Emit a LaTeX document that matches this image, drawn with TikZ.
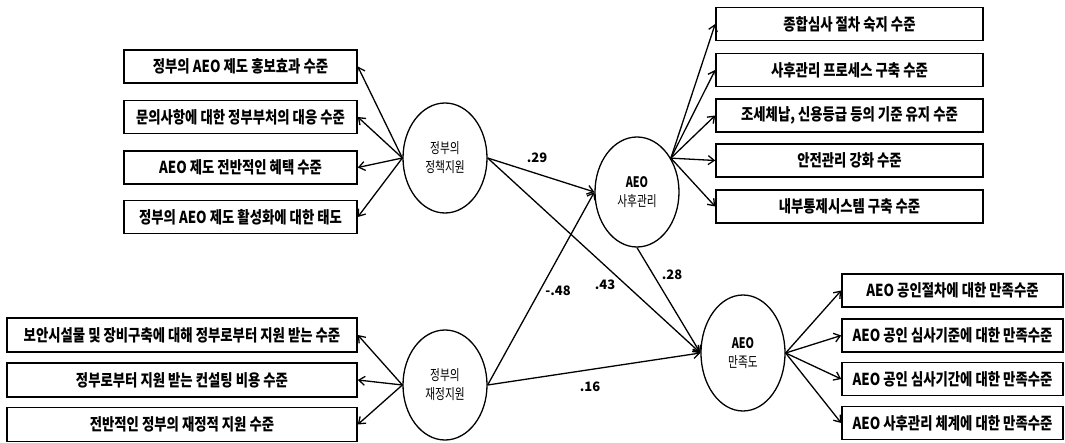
\documentclass[tikz,border=0pt]{standalone}
\usepackage{fontspec}
\setmainfont{Noto Sans CJK KR}
\newfontfamily\boxfont{Noto Sans CJK KR}[FakeStretch=0.81]
\newfontfamily\ellfont{Noto Sans CJK KR}[FakeStretch=0.74]
\usetikzlibrary{arrows.meta,shapes.geometric}
\tikzset{
  obs/.style={draw,line width=1.6pt,inner sep=0pt,font=\boxfont\fontsize{16.5}{18}\selectfont\bfseries,minimum height=33pt},
  lat/.style={draw,ellipse,line width=1.3pt,inner sep=0pt,minimum width=84pt,minimum height=110pt,align=center,font=\ellfont\fontsize{14.5}{19}\selectfont},
  arr/.style={line width=1.3pt,-{Straight Barb[length=6pt,width=9pt,line width=1.3pt]}},
  coef/.style={font=\fontsize{13}{15}\selectfont\bfseries,inner sep=1pt}
}
\begin{document}
\begin{tikzpicture}[x=1pt,y=-1pt]
\useasboundingbox[fill=white] (0,0) rectangle (1065,443);
% latent variables
\node[lat] (pol) at (445,158) {정부의\\정책지원};
\node[lat] (fin) at (445,385) {정부의\\재정지원};
\node[lat] (sa) at (637,192) {\textbf{AEO}\\사후관리};
\node[lat,minimum height=116pt] (man) at (743,353) {\textbf{AEO}\\만족도};
% policy indicators
\node[obs,minimum width=233pt] (p1) at (240.5,66.5) {정부의 AEO 제도 홍보효과 수준};
\node[obs,minimum width=233pt] (p2) at (240.5,117) {문의사항에 대한 정부부처의 대응 수준};
\node[obs,minimum width=233pt] (p3) at (240.5,167.5) {AEO 제도 전반적인 혜택 수준};
\node[obs,minimum width=233pt] (p4) at (240.5,217) {정부의 AEO 제도 활성화에 대한 태도};
% financial indicators
\node[obs,minimum width=350pt,minimum height=34pt] (f1) at (182,335) {보안시설물 및 장비구축에 대해 정부로부터 지원 받는 수준};
\node[obs,minimum width=350pt,minimum height=34pt] (f2) at (182,380) {정부로부터 지원 받는 컨설팅 비용 수준};
\node[obs,minimum width=350pt,minimum height=34pt] (f3) at (182,424.5) {전반적인 정부의 재정적 지원 수준};
% post-management indicators
\node[obs,minimum width=267pt] (s1) at (849.5,24) {종합심사 절차 숙지 수준};
\node[obs,minimum width=267pt] (s2) at (849.5,70) {사후관리 프로세스 구축 수준};
\node[obs,minimum width=267pt] (s3) at (849.5,115.5) {조세체납, 신용등급 등의 기준 유지 수준};
\node[obs,minimum width=267pt] (s4) at (849.5,160.5) {안전관리 강화 수준};
\node[obs,minimum width=267pt] (s5) at (849.5,206.5) {내부통제시스템 구축 수준};
% satisfaction indicators
\node[obs,minimum width=221pt] (m1) at (952.5,290.5) {AEO 공인절차에 대한 만족수준};
\node[obs,minimum width=221pt] (m2) at (952.5,335.5) {AEO 공인 심사기준에 대한 만족수준};
\node[obs,minimum width=221pt] (m3) at (952.5,379) {AEO 공인 심사기간에 대한 만족수준};
\node[obs,minimum width=221pt] (m4) at (952.5,423) {AEO 사후관리 체계에 대한 만족수준};
% measurement arrows
\foreach \b in {p1,p2,p3,p4} \draw[arr] (pol.west) -- (\b.east);
\foreach \b in {f1,f2,f3} \draw[arr] (fin.west) -- (\b.east);
\foreach \b in {s1,s2,s3,s4,s5} \draw[arr] (sa.45) -- (\b.west);
\foreach \b in {m1,m2,m3,m4} \draw[arr] (man.east) -- (\b.west);
% structural paths
\draw[arr] (pol.east) -- (sa.west);
\draw[arr] (pol.east) -- (man.west);
\draw[arr] (fin.east) -- (sa.west);
\draw[arr] (fin.east) -- (man.west);
\draw[arr] (sa.south) -- (man.west);
% coefficients
\node[coef] (c1) at (537,158) {.29};
\node[coef] (c2) at (605,285) {.43};
\node[coef] (c3) at (558,291) {-.48};
\node[coef] (c4) at (590,387) {.16};
\node[coef] (c5) at (672,275) {.28};
\end{tikzpicture}
\end{document}
